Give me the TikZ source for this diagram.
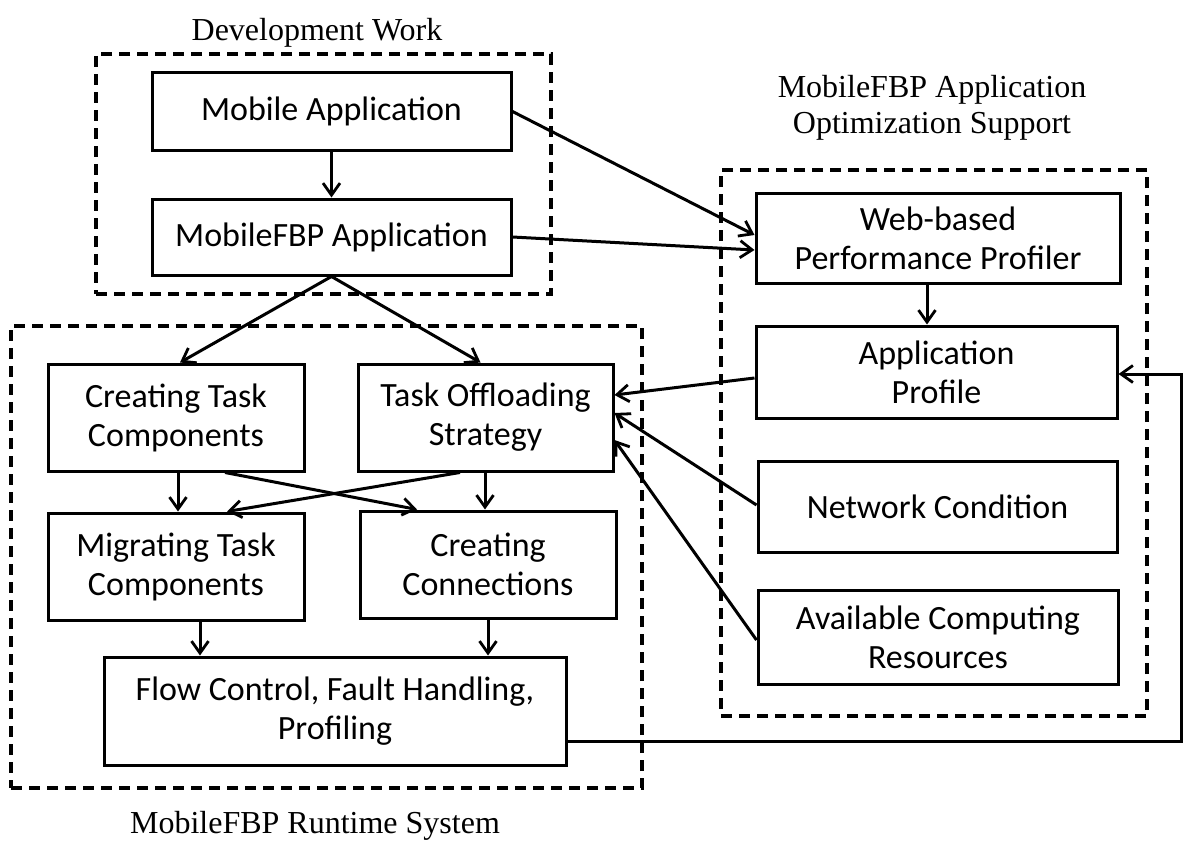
\documentclass[tikz,border=0pt]{standalone}
\usepackage{fontspec}
\setmainfont{Carlito}
\newfontfamily\titlefont{Liberation Serif}
\usetikzlibrary{arrows.meta}
\begin{document}
\begin{tikzpicture}[x=1pt,y=-1pt,
  box/.style={draw,line width=3pt,inner sep=0pt,align=center,
    font=\fontsize{34}{39}\selectfont},
  group/.style={draw,line width=3.2pt,dash pattern=on 11pt off 7pt,inner sep=0pt},
  title/.style={font=\titlefont\fontsize{32}{36}\selectfont,align=center,inner sep=0pt},
  link/.style={line width=3pt,-{Straight Barb[length=12pt,width=17pt,line width=2.8pt]}}]
\useasboundingbox (0,0) rectangle (1184,843);

% dashed groups
\node[group,minimum width=455pt,minimum height=240pt] (dev) at (323.5,174) {};
\node[group,minimum width=631pt,minimum height=462pt] (rt)  at (326.5,557) {};
\node[group,minimum width=426pt,minimum height=546pt] (opt) at (934,443) {};

% group titles
\node[title,anchor=base] (tdev) at (317,41) {Development Work};
\node[title,anchor=base] (topt) at (932,133) {MobileFBP Application\\Optimization Support};
\node[title,anchor=base] (trt)  at (315,833) {MobileFBP Runtime System};

% development work
\node[box,minimum width=359pt,minimum height=77pt] (ma)   at (331.5,111.5) {Mobile Application};
\node[box,minimum width=359pt,minimum height=76pt] (mfbp) at (331.5,237) {MobileFBP Application};

% runtime system
\node[box,minimum width=256pt,minimum height=107pt] (ctc) at (176,417.5) {Creating Task\\Components};
\node[box,minimum width=255pt,minimum height=107pt] (tos) at (485.5,417.5) {Task Offloading\\Strategy};
\node[box,minimum width=256pt,minimum height=107pt] (mtc) at (176,566.5) {Migrating Task\\Components};
\node[box,minimum width=256pt,minimum height=107pt] (cc)  at (488,564.5) {Creating\\Connections};
\node[box,minimum width=462pt,minimum height=108pt] (fc)  at (335,711) {Flow Control, Fault Handling,\\Profiling};

% optimization support
\node[box,minimum width=364pt,minimum height=90pt] (wb)  at (938,238) {Web-based\\Performance Profiler};
\node[box,minimum width=361pt,minimum height=92pt] (ap)  at (936.5,372) {Application\\Profile};
\node[box,minimum width=359pt,minimum height=91pt] (nc)  at (937.5,506.5) {Network Condition};
\node[box,minimum width=360pt,minimum height=94pt] (acr) at (938,637) {Available Computing\\Resources};

% connectors
\draw[link] (ma.south) -- (mfbp.north);
\draw[link] (ma.east) -- ([yshift=3pt]wb.west);
\draw[link] (mfbp.east) -- ([yshift=-12pt]wb.west);
\draw[link] (mfbp.south) -- ([xshift=4pt]ctc.north);
\draw[link] (mfbp.south) -- ([xshift=-5pt]tos.north);
\draw[link] ([xshift=2pt]ctc.south) -- ([xshift=2pt]mtc.north);
\draw[link] ([xshift=-0.5pt]tos.south) -- ([xshift=-3pt]cc.north);
\draw[link] ([xshift=49pt]ctc.south) -- ([xshift=-71pt]cc.north);
\draw[link] ([xshift=-25.5pt]tos.south) -- ([xshift=51pt]mtc.north);
\draw[link] ([xshift=24pt]mtc.south) -- ([xshift=-135pt]fc.north);
\draw[link] (cc.south) -- ([xshift=153pt]fc.north);
\draw[link] ([xshift=-11pt]wb.south) -- ([xshift=-9.5pt]ap.north);
\draw[link] ([yshift=-6pt]ap.west) -- ([yshift=22.5pt]tos.east);
\draw[link] ([yshift=1.5pt]nc.west) -- ([yshift=4.5pt]tos.east);
\draw[link] ([yshift=-3pt]acr.west) -- ([yshift=-22.5pt]tos.east);
\draw[link] ([yshift=-30pt]fc.east) -- ++(614,0) |- ([yshift=-2pt]ap.east);
\end{tikzpicture}
\end{document}
